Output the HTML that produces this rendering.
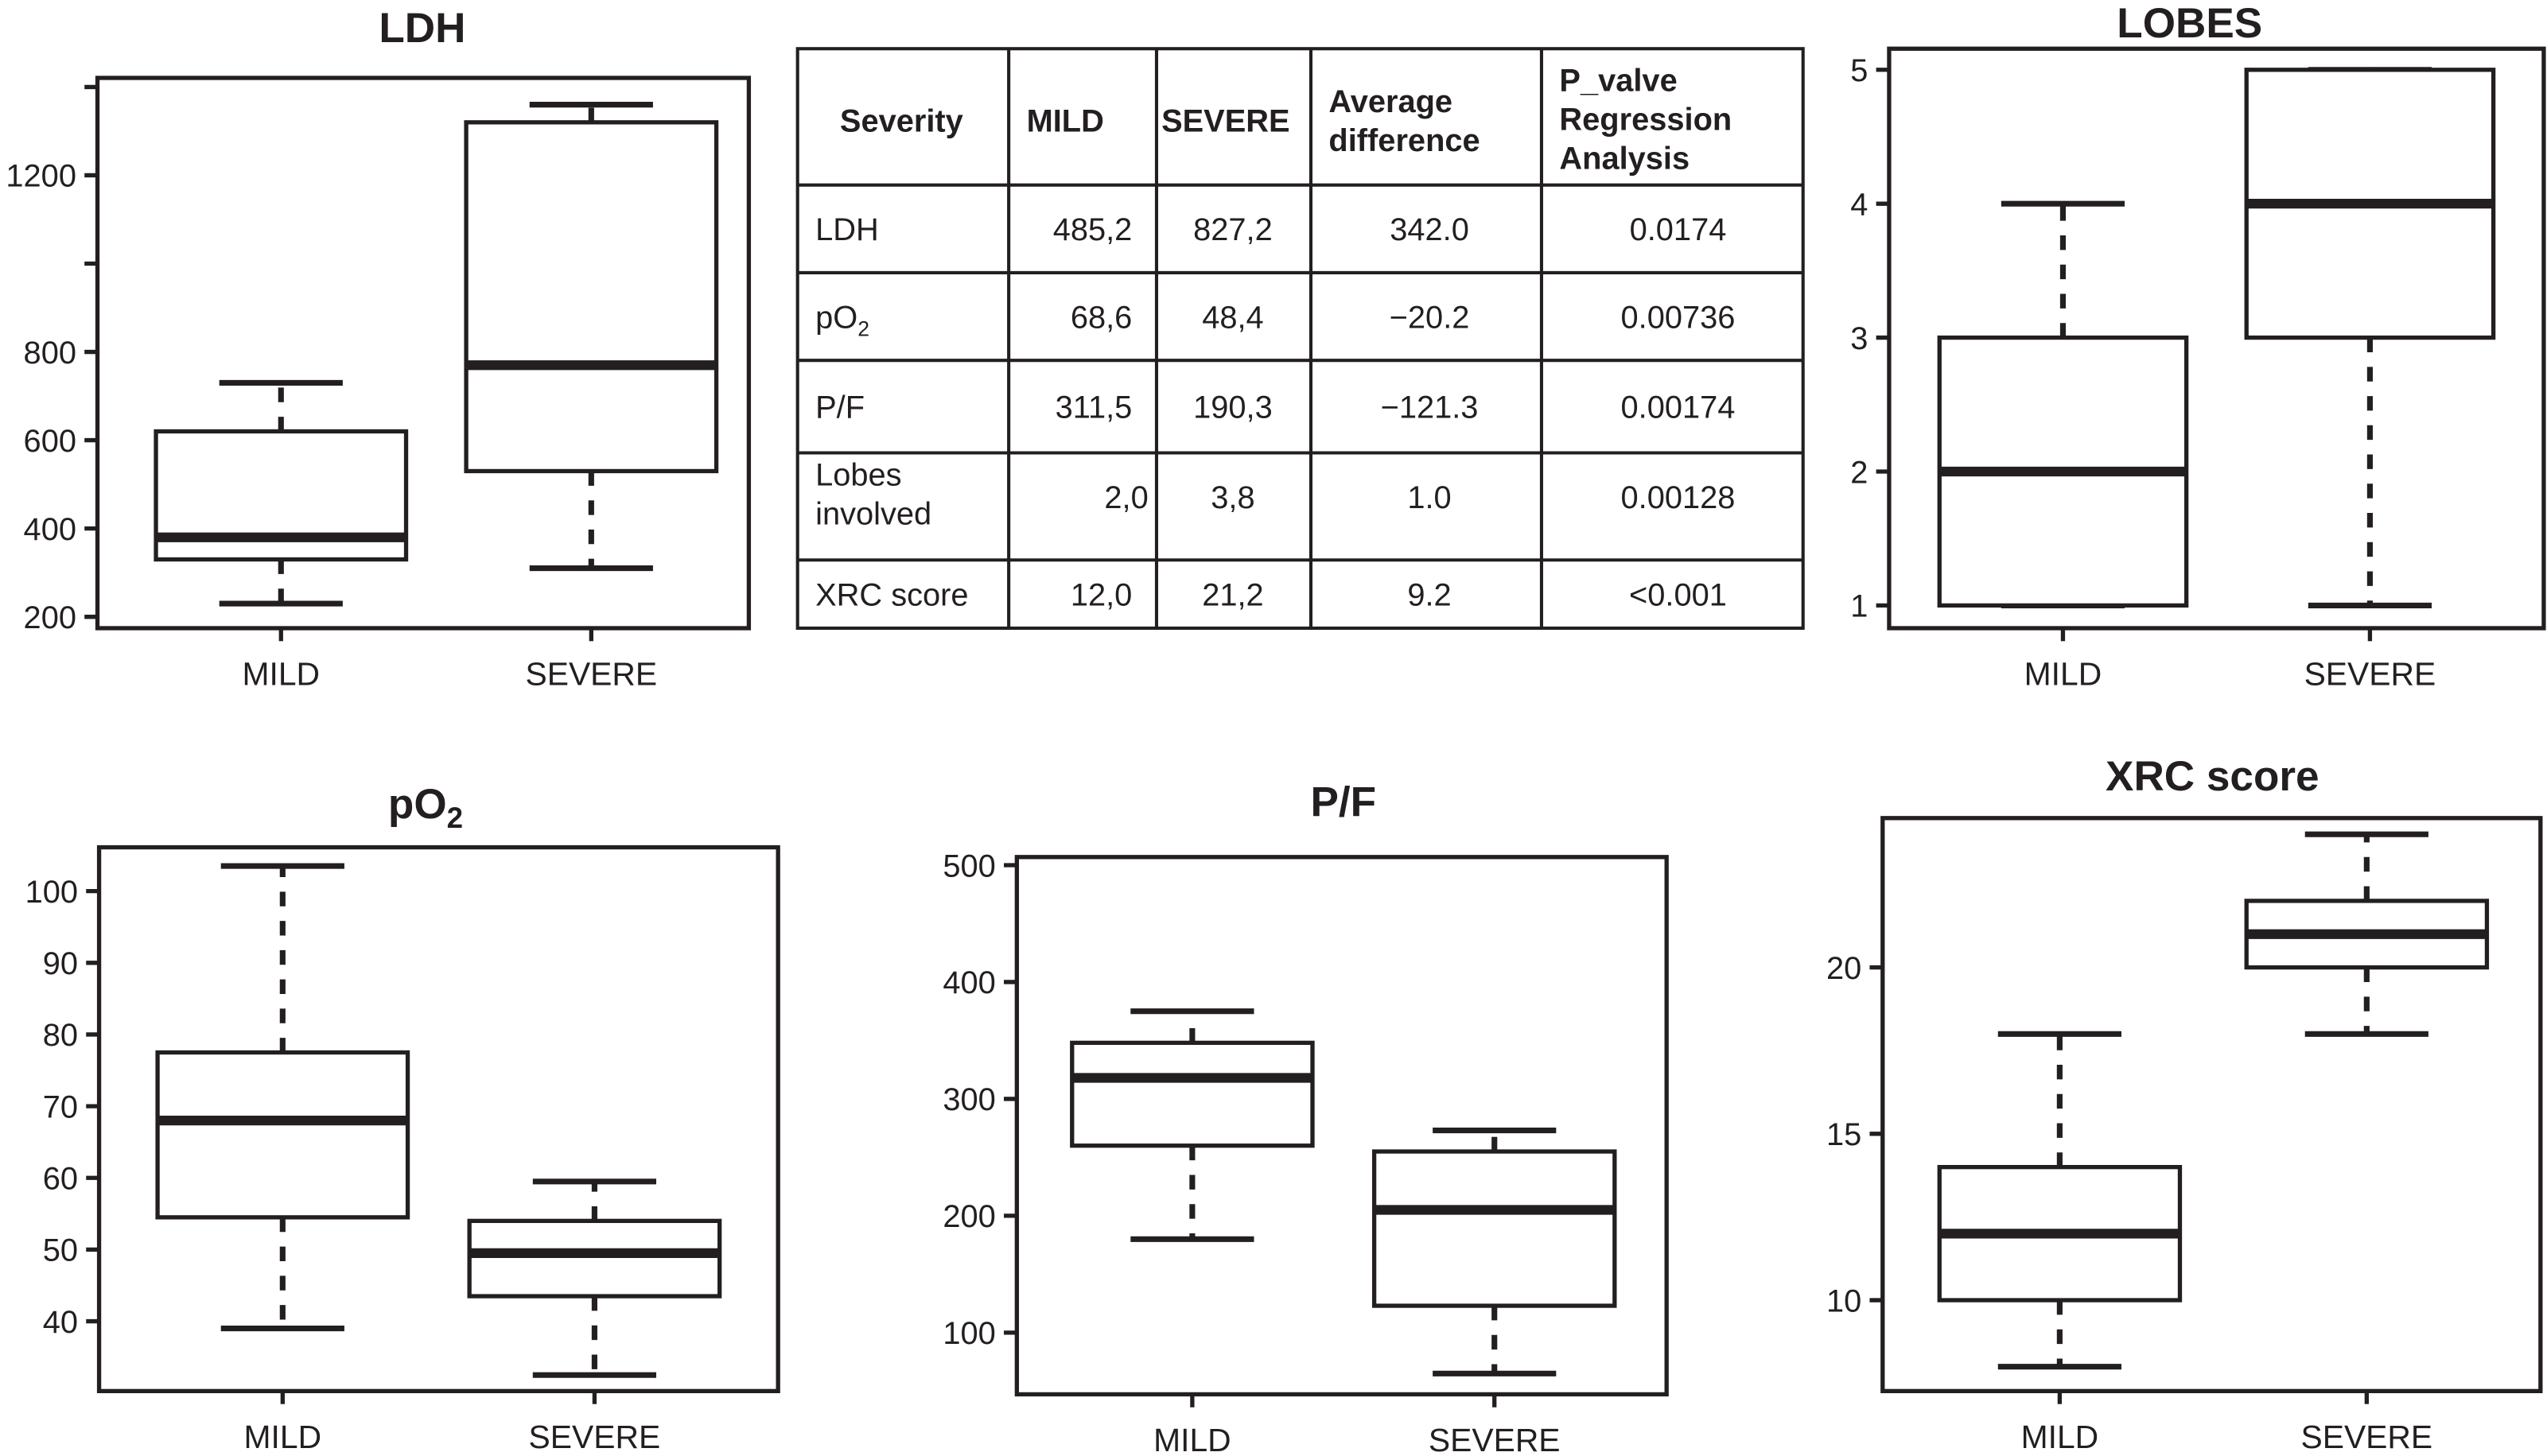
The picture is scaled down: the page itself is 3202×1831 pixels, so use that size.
<!DOCTYPE html>
<html><head><meta charset="utf-8"><style>
html,body{margin:0;padding:0;background:#fff;}
svg{display:block;}
text{font-family:"Liberation Sans",Arial,sans-serif;fill:#231f20;}
</style></head><body>
<svg id="fig" width="3202" height="1831" viewBox="0 0 1568 897" preserveAspectRatio="none" xmlns="http://www.w3.org/2000/svg">
<g id="charts"></g>
<g id="table"></g>
</svg>
<script>
// ---- data ----
const categories = ["MILD", "SEVERE"];
// [low whisker, Q1, median, Q3, high whisker]
const ldhMild = [230, 330, 380, 620, 730];
const ldhSevere = [310, 530, 770, 1320, 1360];
const ldhTicks = [200, 400, 600, 800, 1000, 1200, 1400];
const ldhTickLabels = ["200", "400", "600", "800", "", "1200", ""];
const lobesMild = [1, 1, 2, 3, 4];
const lobesSevere = [1, 3, 4, 5, 5];
const lobesTicks = [1, 2, 3, 4, 5];
const lobesTickLabels = ["1", "2", "3", "4", "5"];
const po2Mild = [39, 54.5, 68, 77.5, 103.5];
const po2Severe = [32.5, 43.5, 49.5, 54, 59.5];
const po2Ticks = [40, 50, 60, 70, 80, 90, 100];
const po2TickLabels = ["40", "50", "60", "70", "80", "90", "100"];
const pfMild = [180, 260, 318, 348, 375];
const pfSevere = [65, 123, 205, 255, 273];
const pfTicks = [100, 200, 300, 400, 500];
const pfTickLabels = ["100", "200", "300", "400", "500"];
const xrcMild = [8, 10, 12, 14, 18];
const xrcSevere = [18, 20, 21, 22, 24];
const xrcTicks = [10, 15, 20];
const xrcTickLabels = ["10", "15", "20"];

const NS = "http://www.w3.org/2000/svg";
function mk(tag, attrs, parent) {
  const e = document.createElementNS(NS, tag);
  for (const k in attrs) e.setAttribute(k, attrs[k]);
  parent.appendChild(e);
  return e;
}
const root = document.getElementById("charts");

function chart(cfg) {
  const g = mk("g", {}, root);
  
  
  const y = v => cfg.y0 + (v - cfg.v0) * (cfg.y1 - cfg.y0) / (cfg.v1 - cfg.v0);
  const t = mk("text", {x: cfg.titleX, y: cfg.titleY, "text-anchor": "middle", "font-size": 26, "font-weight": "bold"}, g);
  
  
  if (cfg.sub) {
    t.textContent = cfg.title;
    const s = mk("tspan", {"font-size": 18, dy: 6}, t); s.textContent = cfg.sub;
  } else t.textContent = cfg.title;
  const fr = mk("rect", {x: cfg.L, y: cfg.T, width: cfg.R - cfg.L, height: cfg.B - cfg.T, fill: "none", stroke: "#231f20", "stroke-width": 2.6}, g);
  
  
  cfg.ticks.forEach((tv, i) => {
    const yy = y(tv);
    const tk = mk("line", {x1: cfg.L - 8, x2: cfg.L, y1: yy, y2: yy, stroke: "#231f20", "stroke-width": 2.6}, g);
    
    
    if (cfg.labels[i]) {
      const lb = mk("text", {x: cfg.L - 13, y: yy + 7, "text-anchor": "end", "font-size": 19.5}, g);
      
      
      lb.textContent = cfg.labels[i];
    }
  });
  [cfg.mild, cfg.severe].forEach((d, i) => {
    const cx = cfg.xs[i];
    const tk = mk("line", {x1: cx, x2: cx, y1: cfg.B, y2: cfg.B + 8, stroke: "#231f20", "stroke-width": 2.6}, g);
    
    
    const lb = mk("text", {x: cx, y: cfg.B + 35, "text-anchor": "middle", "font-size": 20}, g);
    
    
    lb.textContent = categories[i];
    const bg = mk("g", {}, g);
    
    
    const hw = cfg.hw, cw = 38;
    const [lo, q1, med, q3, hi] = d.map(y);
    mk("line", {x1: cx, x2: cx, y1: q1, y2: lo, stroke: "#231f20", "stroke-width": 3.5, "stroke-dasharray": "9,9"}, bg);
    mk("line", {x1: cx, x2: cx, y1: q3, y2: hi, stroke: "#231f20", "stroke-width": 3.5, "stroke-dasharray": "9,9"}, bg);
    mk("line", {x1: cx - cw, x2: cx + cw, y1: lo, y2: lo, stroke: "#231f20", "stroke-width": 3.5}, bg);
    mk("line", {x1: cx - cw, x2: cx + cw, y1: hi, y2: hi, stroke: "#231f20", "stroke-width": 3.5}, bg);
    mk("rect", {x: cx - hw, y: q3, width: 2 * hw, height: q1 - q3, fill: "#fff", stroke: "#231f20", "stroke-width": 2.6}, bg);
    mk("line", {x1: cx - hw, x2: cx + hw, y1: med, y2: med, stroke: "#231f20", "stroke-width": 6}, bg);
  });
}

chart({name: "ldh", title: "LDH", titleX: 260, titleY: 26, L: 60, R: 461, T: 48, B: 387, v0: 200, y0: 380, v1: 1200, y1: 108,
  xs: [173, 364], hw: 77, mild: ldhMild, severe: ldhSevere, ticks: ldhTicks, labels: ldhTickLabels});
chart({name: "lobes", title: "LOBES", titleX: 1348, titleY: 23, L: 1163, R: 1566, T: 30, B: 387, v0: 1, y0: 373, v1: 5, y1: 43,
  xs: [1270, 1459], hw: 76, mild: lobesMild, severe: lobesSevere, ticks: lobesTicks, labels: lobesTickLabels});
chart({name: "po2", title: "pO", sub: "2", titleX: 262, titleY: 504, L: 61, R: 479, T: 522, B: 857, v0: 40, y0: 814, v1: 100, y1: 549,
  xs: [174, 366], hw: 77, mild: po2Mild, severe: po2Severe, ticks: po2Ticks, labels: po2TickLabels});
chart({name: "pf", title: "P/F", titleX: 827, titleY: 503, L: 626, R: 1026, T: 528, B: 859, v0: 100, y0: 821, v1: 500, y1: 533,
  xs: [734, 920], hw: 74, mild: pfMild, severe: pfSevere, ticks: pfTicks, labels: pfTickLabels});
chart({name: "xrc", title: "XRC score", titleX: 1362, titleY: 487, L: 1159, R: 1564, T: 504, B: 857, v0: 10, y0: 801, v1: 20, y1: 596,
  xs: [1268, 1457], hw: 74, mild: xrcMild, severe: xrcSevere, ticks: xrcTicks, labels: xrcTickLabels});

// ---- table ----
const tg = document.getElementById("table");
const colX = [491, 621, 712, 807, 949, 1110];
const rowY = [30, 114, 168, 222, 279, 345, 387];
mk("rect", {x: 491, y: 30, width: 619, height: 357, fill: "none", stroke: "#231f20", "stroke-width": 2}, tg);
colX.slice(1, -1).forEach(x => mk("line", {x1: x, x2: x, y1: 30, y2: 387, stroke: "#231f20", "stroke-width": 2}, tg));
rowY.slice(1, -1).forEach(yv => mk("line", {x1: 491, x2: 1110, y1: yv, y2: yv, stroke: "#231f20", "stroke-width": 2}, tg));
function tx(x, yv, s, anchor, bold, name) {
  const e = mk("text", {x: x, y: yv, "text-anchor": anchor, "font-size": 19.5, "font-weight": bold ? "bold" : "normal"}, tg);
  
  
  e.textContent = s;
  return e;
}
tx(555, 81, "Severity", "middle", true, "header-severity");
tx(632, 81, "MILD", "start", true, "header-mild");
tx(715, 81, "SEVERE", "start", true, "header-severe");
tx(818, 69, "Average", "start", true, "header-avg");
tx(818, 93, "difference", "start", true, "header-avg");
tx(960, 56, "P_valve", "start", true, "header-pvalue");
tx(960, 80, "Regression", "start", true, "header-pvalue");
tx(960, 104, "Analysis", "start", true, "header-pvalue");
const rows = [
  ["LDH", "485,2", "827,2", "342.0", "0.0174"],
  ["pO2", "68,6", "48,4", "\u221220.2", "0.00736"],
  ["P/F", "311,5", "190,3", "\u2212121.3", "0.00174"],
  ["Lobes involved", "2,0", "3,8", "1.0", "0.00128"],
  ["XRC score", "12,0", "21,2", "9.2", "<0.001"]
];
rows.forEach((r, i) => {
  const yc = (rowY[i + 1] + rowY[i + 2]) / 2 + 7;
  const yr = i === 3 ? yc - 6 : yc;
  if (i === 1) { const e = tx(502, yc, "pO", "start", false, "row-label"); const s = mk("tspan", {"font-size": 13, dy: 5}, e); s.textContent = "2"; }
  else if (i === 3) { tx(502, yc - 20, "Lobes", "start", false, "row-label"); tx(502, yc + 4, "involved", "start", false, "row-label"); }
  else tx(502, yc, r[0], "start", false, "row-label");
  tx(i === 3 ? 707 : 697, yr, r[1], "end", false, "cell-mild");
  tx(759, yr, r[2], "middle", false, "cell-severe");
  tx(880, yr, r[3], "middle", false, "cell-diff");
  tx(1033, yr, r[4], "middle", false, "cell-pvalue");
});
</script>
</body></html>
